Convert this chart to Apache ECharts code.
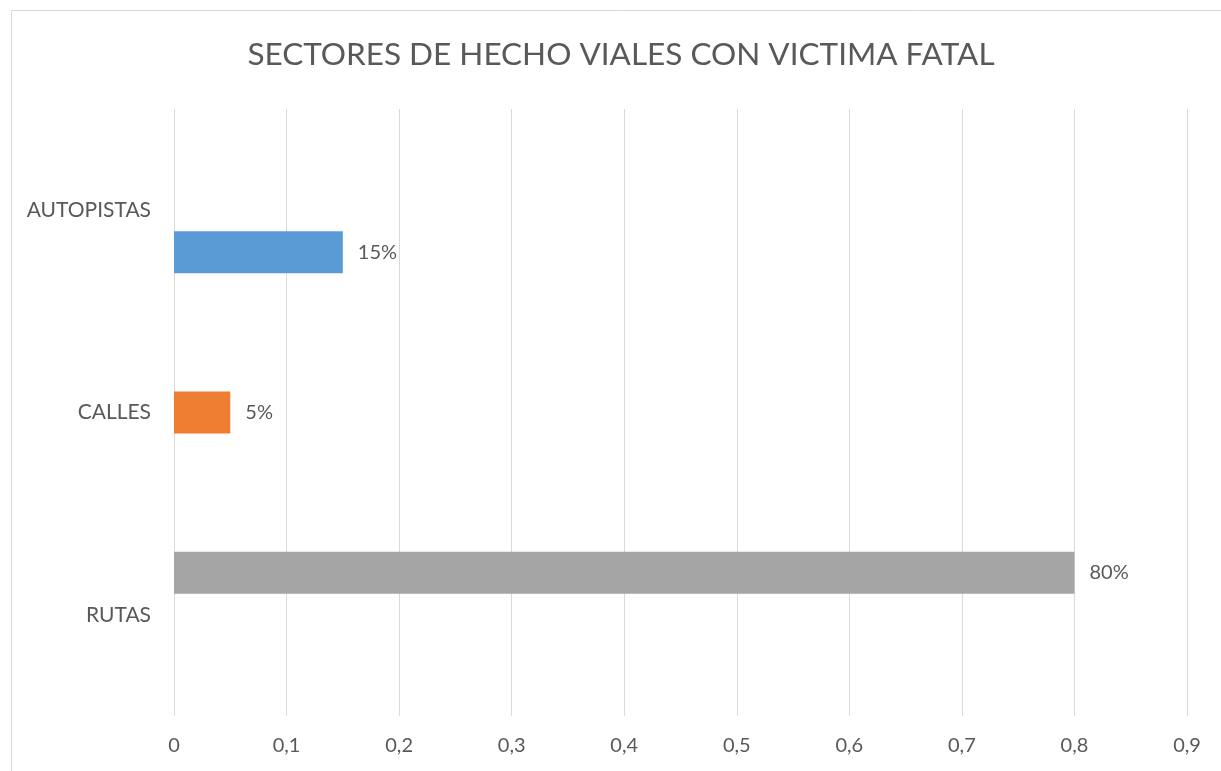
<!DOCTYPE html>
<html>
<head>
<meta charset="utf-8">
<script src="https://cdn.jsdelivr.net/npm/echarts@6/dist/echarts.min.js"></script>
<style>
html,body{margin:0;padding:0;background:#fff;}
#chart{width:1221px;height:771px;}
</style>
</head>
<body>
<div id="chart"></div>
<script>
const titleText = 'SECTORES DE HECHO VIALES CON VICTIMA FATAL';
const categories = ['RUTAS', 'CALLES', 'AUTOPISTAS'];
const values = [0.8, 0.05, 0.15];
const seriesColors = ['#A5A5A5', '#ED7D31', '#5B9BD5'];
const axisMin = 0, axisMax = 0.9, axisStep = 0.1;

const FONT = 'Lato';
const TXT = '#595959';

const chart = echarts.init(document.getElementById('chart'));
const series = categories.map((c, i) => ({
  name: c,
  type: 'bar',
  barWidth: 42,
  barGap: '0%',
  data: categories.map((_, j) => (j === i ? values[j] : null)),
  itemStyle: { color: seriesColors[i] },
  label: {
    show: true,
    position: 'right',
    distance: 15,
    color: TXT,
    fontFamily: FONT,
    fontSize: 20,
    formatter: p => Math.round(p.value * 100) + '%'
  }
}));

chart.setOption({
  animation: false,
  backgroundColor: '#fff',
  graphic: [
    { type: 'rect', shape: { x: 11.5, y: 10.5, width: 1230, height: 800 },
      style: { fill: 'none', stroke: '#d9d9d9', lineWidth: 1 }, silent: true },
    { type: 'text', x: 621, y: 55,
      style: { text: titleText, fill: TXT, font: '31.5px Lato', textAlign: 'center', textVerticalAlign: 'middle' } }
  ],
  grid: { left: 174, right: 34, top: 109, bottom: 55, containLabel: false },
  xAxis: {
    type: 'value', min: axisMin, max: axisMax, interval: axisStep,
    axisLine: { show: false }, axisTick: { show: false },
    splitLine: { show: true, lineStyle: { color: '#d9d9d9', width: 1 } },
    axisLabel: {
      color: TXT, fontFamily: FONT, fontSize: 20, margin: 20,
      formatter: v => String(+v.toFixed(1)).replace('.', ',')
    }
  },
  yAxis: {
    type: 'category', data: categories,
    axisLine: { show: false }, axisTick: { show: false },
    axisLabel: { color: TXT, fontFamily: FONT, fontSize: 21, margin: 23 }
  },
  series: series
});
</script>
</body>
</html>
